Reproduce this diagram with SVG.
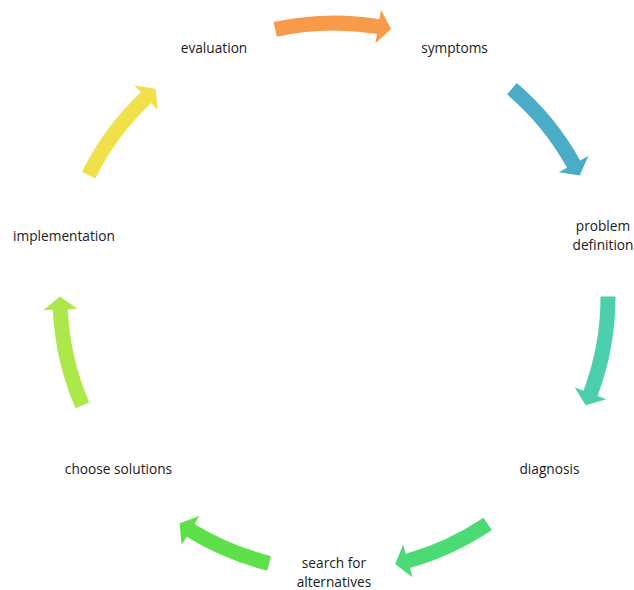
<svg xmlns="http://www.w3.org/2000/svg" width="634" height="590" viewBox="0 0 634 590">
  <style>
    .lbl { font-family: "Open Sans", "Liberation Sans", sans-serif; font-size: 13.7px; fill: #1a1a1a; text-anchor: middle; }
    .arrow { stroke: none; }
  </style>
  <rect width="634" height="590" fill="#ffffff"/>
  <g id="connectors">
    <path class="arrow" fill="#F79A4A" d="M273.56,22.06 A281.5,281.5 0 0 1 379.41,19.19 L380.94,9.81 L390.97,29.0 L375.45,43.37 L376.99,33.99 A266.5,266.5 0 0 0 276.78,36.71 Z"/>
    <path class="arrow" fill="#4BACC6" d="M516.81,82.95 A281.5,281.5 0 0 1 580.17,160.44 L588.48,155.84 L579.64,175.59 L558.75,172.33 L567.05,167.72 A266.5,266.5 0 0 0 507.07,94.35 Z"/>
    <path class="arrow" fill="#4BCFAC" d="M615.5,296.51 A281.5,281.5 0 0 1 597.54,395.95 L606.43,399.29 L585.64,405.37 L574.60,387.34 L583.50,390.67 A266.5,266.5 0 0 0 600.5,296.53 Z"/>
    <path class="arrow" fill="#4ADB75" d="M491.81,530.11 A281.5,281.5 0 0 1 409.81,568.11 L412.37,577.26 L395.18,564.10 L403.21,544.52 L405.77,553.67 A266.5,266.5 0 0 0 483.40,517.69 Z"/>
    <path class="arrow" fill="#5EE04B" d="M267.34,570.51 A281.5,281.5 0 0 1 186.58,536.81 L181.60,544.90 L179.60,523.35 L199.41,515.94 L194.43,524.03 A266.5,266.5 0 0 0 270.89,555.93 Z"/>
    <path class="arrow" fill="#ADE84A" d="M75.47,408.33 A281.5,281.5 0 0 1 52.78,309.86 L43.29,310.30 L60.0,296.52 L77.26,308.74 L67.77,309.18 A266.5,266.5 0 0 0 89.25,402.40 Z"/>
    <path class="arrow" fill="#F0E04A" d="M81.86,171.82 A281.5,281.5 0 0 1 140.86,92.21 L134.34,85.30 L155.68,88.95 L157.67,110.03 L151.15,103.12 A266.5,266.5 0 0 0 95.30,178.49 Z"/>
  </g>
  <g id="node-evaluation"><text class="lbl" x="214" y="53.3">evaluation</text></g>
  <g id="node-symptoms"><text class="lbl" x="454.5" y="53.3">symptoms</text></g>
  <g id="node-problem-definition"><text class="lbl" x="603" y="231">problem</text><text class="lbl" x="603" y="249.7">definition</text></g>
  <g id="node-diagnosis"><text class="lbl" x="549.5" y="474">diagnosis</text></g>
  <g id="node-search"><text class="lbl" x="334" y="568">search for</text><text class="lbl" x="334" y="586.7">alternatives</text></g>
  <g id="node-choose"><text class="lbl" x="118.5" y="474">choose solutions</text></g>
  <g id="node-implementation"><text class="lbl" x="64" y="240.7">implementation</text></g>
</svg>
